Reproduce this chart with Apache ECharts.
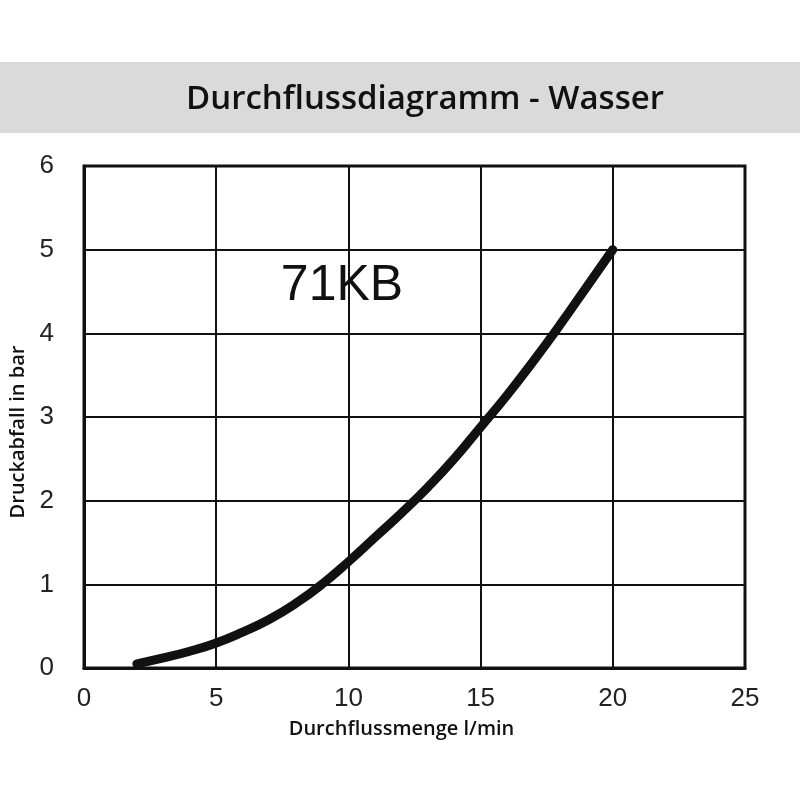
<!DOCTYPE html>
<html>
<head>
<meta charset="utf-8">
<style>
  html, body { margin: 0; padding: 0; background: #fff; }
  #chart { width: 800px; height: 800px; }
</style>
<script src="https://cdn.jsdelivr.net/npm/echarts@6/dist/echarts.min.js"></script>
</head>
<body>
<div id="chart"></div>
<script>
'use strict';

// Durchfluss (l/min) -> Druckabfall (bar)
var flow = [2, 3, 4, 5, 6, 7, 8, 9, 10, 11, 12, 13, 14, 15, 16, 17, 18, 19, 20];
var pressure = [0.05, 0.12, 0.20, 0.30, 0.43, 0.58, 0.77, 1.00, 1.27, 1.56, 1.85, 2.16, 2.50, 2.88, 3.26, 3.67, 4.10, 4.55, 5.00];

var xTicks = [0, 5, 10, 15, 20, 25];
var yTicks = [0, 1, 2, 3, 4, 5, 6];

var title = 'Durchflussdiagramm - Wasser';
var curveName = '71KB';
var xName = 'Durchflussmenge l/min';
var yName = 'Druckabfall in bar';

var chart = echarts.init(document.getElementById('chart'));

var points = flow.map(function (x, i) {
    return [x, pressure[i]];
});

chart.setOption({
    animation: false,
    backgroundColor: '#fff',
    graphic: [
        {
            type: 'rect',
            shape: { x: 0, y: 62, width: 800, height: 71 },
            style: { fill: '#dadada' },
            z: -1
        },
        {
            type: 'text',
            x: 425,
            y: 100,
            style: {
                text: title,
                font: '600 33px "Open Sans"',
                fill: '#111',
                textAlign: 'center',
                textVerticalAlign: 'middle'
            }
        },
        {
            type: 'text',
            x: 342,
            y: 286,
            style: {
                text: curveName,
                font: '50px "Liberation Sans"',
                fill: '#111',
                textAlign: 'center',
                textVerticalAlign: 'middle'
            }
        }
    ],
    grid: {
        left: 84,
        right: 55,
        top: 166,
        bottom: 132,
        show: true,
        borderColor: '#111',
        borderWidth: 3
    },
    xAxis: {
        type: 'value',
        min: xTicks[0],
        max: xTicks[xTicks.length - 1],
        interval: 5,
        name: xName,
        nameLocation: 'middle',
        nameGap: 51,
        nameTextStyle: { fontFamily: 'Open Sans', fontWeight: 600, fontSize: 20, color: '#111', padding: [0, 26, 0, 0] },
        axisLine: { lineStyle: { color: '#111', width: 3 } },
        axisTick: { show: false },
        axisLabel: { fontFamily: 'Liberation Sans', fontSize: 26, color: '#222', margin: 18 },
        splitLine: { lineStyle: { color: '#111', width: 2 } }
    },
    yAxis: {
        type: 'value',
        min: yTicks[0],
        max: yTicks[yTicks.length - 1],
        interval: 1,
        name: yName,
        nameLocation: 'middle',
        nameGap: 50,
        nameTextStyle: { fontFamily: 'Open Sans', fontWeight: 600, fontSize: 20, color: '#111', padding: [0, 30, 0, 0] },
        axisLine: { lineStyle: { color: '#111', width: 3 } },
        axisTick: { show: false },
        axisLabel: { fontFamily: 'Liberation Sans', fontSize: 26, color: '#222', margin: 30 },
        splitLine: { lineStyle: { color: '#111', width: 2 } }
    },
    series: [
        {
            type: 'line',
            name: curveName,
            data: points,
            smooth: true,
            symbol: 'none',
            lineStyle: { color: '#111', width: 9, cap: 'round', join: 'round' }
        }
    ]
});
</script>
</body>
</html>
